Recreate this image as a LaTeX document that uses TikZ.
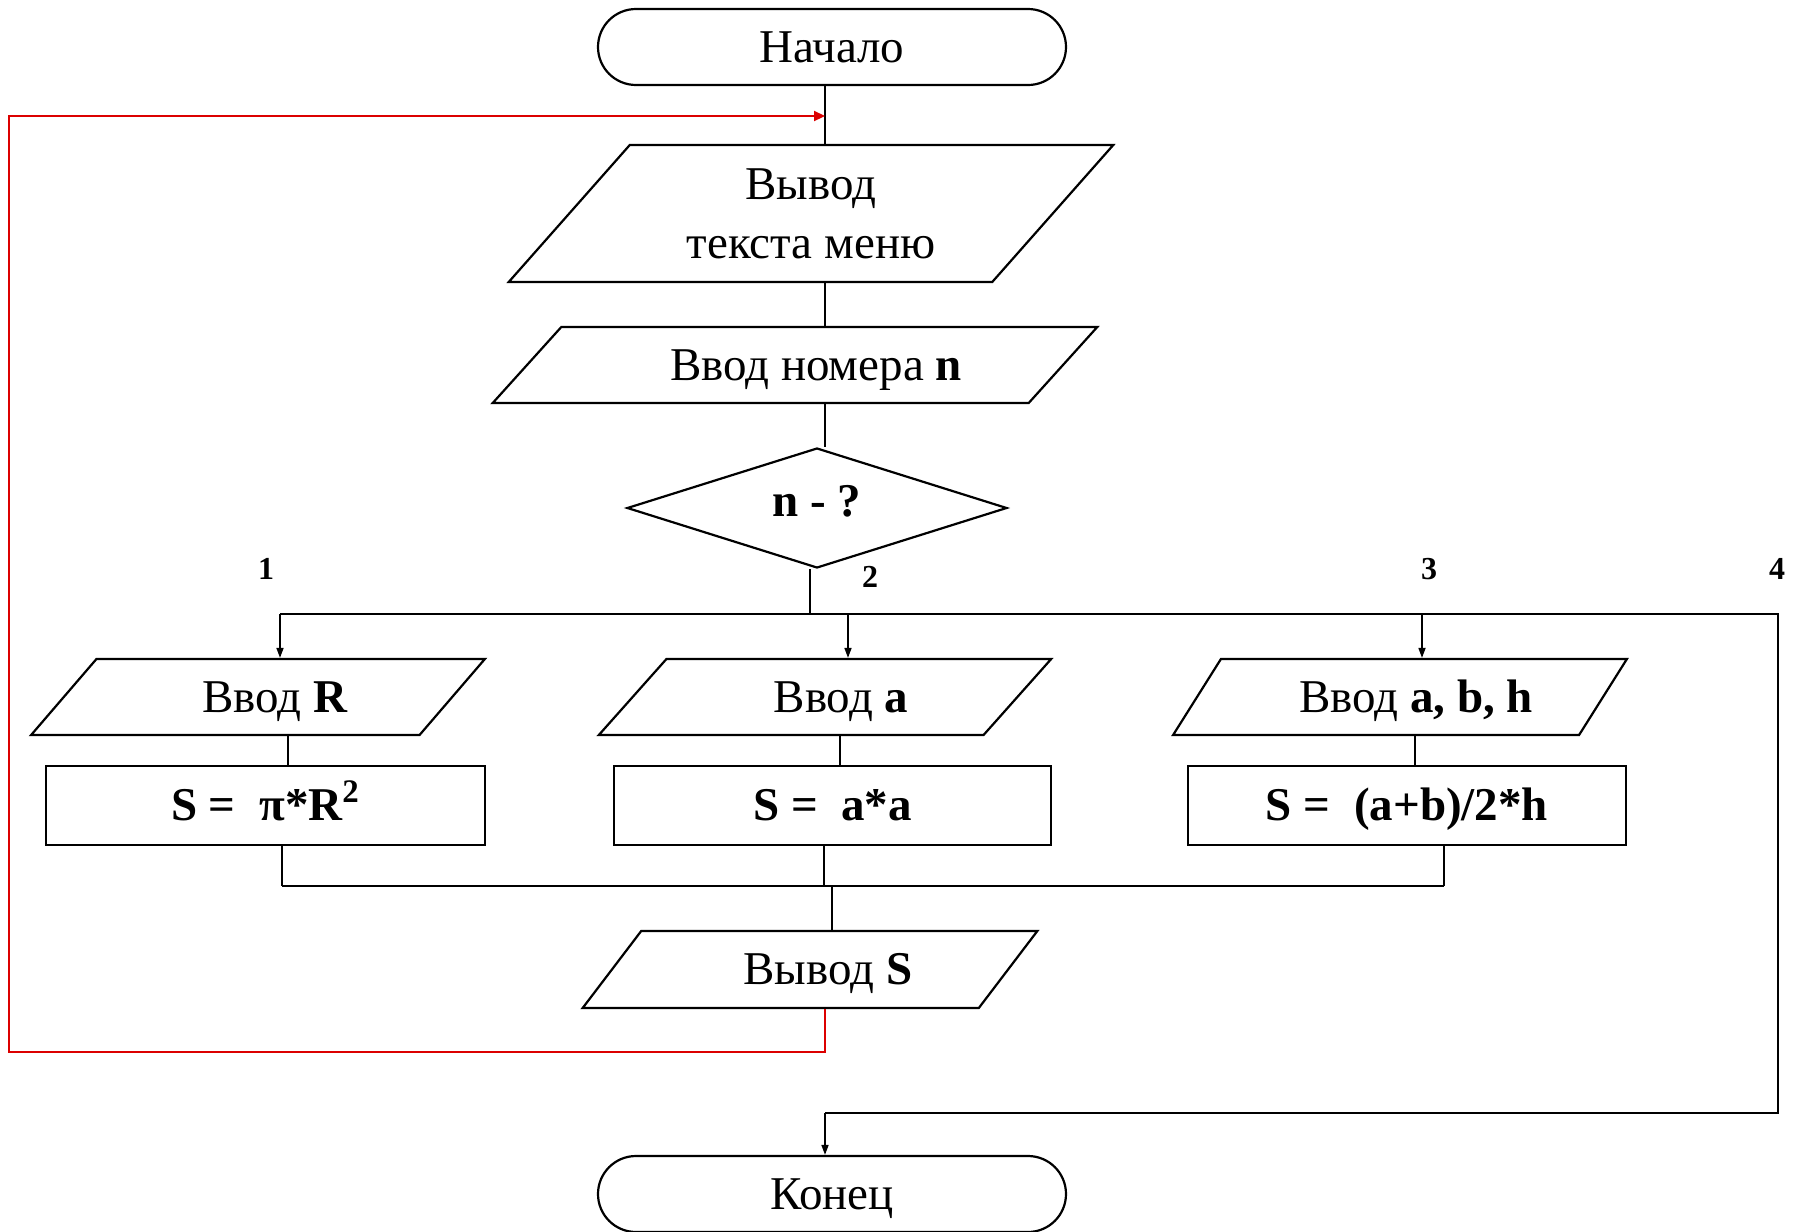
\documentclass[tikz,border=0pt]{standalone}
\usepackage{fontspec}
\setmainfont{Liberation Serif}
\usetikzlibrary{shapes.geometric,shapes.misc,arrows.meta}
\definecolor{loopred}{RGB}{220,0,0}
\begin{document}
\begin{tikzpicture}[x=0.5pt,y=-0.5pt,
  every node/.style={font=\fontsize{23.5}{29.5}\selectfont},
  blk/.style={draw, line width=1.1pt, inner sep=0pt},
  oneline/.style={text height=15pt, text depth=0pt},
  term/.style={blk, oneline, rounded rectangle, minimum width=234pt, minimum height=38pt},
  io/.style={blk, trapezium, trapezium stretches=true},
  proc/.style={blk, oneline, rectangle, minimum height=39.5pt},
  ln/.style={line width=0.8pt},
  arr/.style={ln, -{Triangle[length=5pt,width=3.5pt]}},
  tag/.style={font=\fontsize{16}{16}\selectfont\bfseries}
]
\useasboundingbox (0,0) rectangle (1795,1232);

% blocks
\node[term] (start) at (832,47) {Начало};
\node[io, minimum width=302.5pt, minimum height=68.5pt,
      trapezium left angle=47.4, trapezium right angle=132.6, align=center]
      (menu) at (811,213.5) {Вывод\\текста меню};
\node[io, oneline, minimum width=303pt, minimum height=38pt,
      trapezium left angle=31.5, trapezium right angle=148.5]
      (ninput) at (795,365) {\hspace*{21pt}Ввод номера \textbf{n}};
\node[blk, diamond, aspect=3.17, minimum width=190pt, minimum height=60pt,
      text height=15pt, text depth=7pt]
      (dec) at (817,508) {\textbf{n - ?}};

\node[io, oneline, minimum width=227pt, minimum height=38pt,
      trapezium left angle=39.6, trapezium right angle=140.4]
      (par1) at (258,697) {\hspace*{17pt}Ввод \textbf{R}};
\node[io, oneline, minimum width=226.5pt, minimum height=38pt,
      trapezium left angle=40.2, trapezium right angle=139.8]
      (par2) at (825,697) {\hspace*{16pt}Ввод \textbf{a}};
\node[io, oneline, minimum width=227pt, minimum height=38pt,
      trapezium left angle=40.2, trapezium right angle=139.8]
      (par3) at (1400,697) {\hspace*{16pt}Ввод \textbf{a, b, h}};

\node[proc, minimum width=219.5pt] (rect1) at (265.5,805.5)
      {\textbf{S =\ \ π*R\textsuperscript{2}}};
\node[proc, minimum width=218.5pt] (rect2) at (832.5,805.5)
      {\textbf{S =\ \ a*a}};
\node[proc, minimum width=219pt] (rect3) at (1407,805.5)
      {\textbf{S =\ \ (a+b)/2*h}};

\node[io, oneline, minimum width=227.5pt, minimum height=38.5pt,
      trapezium left angle=40.2, trapezium right angle=139.8]
      (out) at (810,969.5) {\hspace*{18pt}Вывод \textbf{S}};
\node[term] (end) at (832,1194) {Конец};

% branch numbers
\node[tag] (l1) at (266,569) {1};
\node[tag] (l2) at (870,577) {2};
\node[tag] (l3) at (1429,569) {3};
\node[tag] (l4) at (1777,569) {4};

% helper points
\coordinate (xa) at (825,0);
\coordinate (xb) at (810,0);
\coordinate (xo) at (832,0);
\coordinate (i1) at (280,614);
\coordinate (i2) at (848,614);
\coordinate (i3) at (1422,614);
\coordinate (br) at (1778,614);
\coordinate (lp) at (1778,1113);
\coordinate (m1) at (288,0);
\coordinate (m2) at (840,0);
\coordinate (m3) at (1415,0);
\coordinate (o1) at (282,886);
\coordinate (o2) at (824,886);
\coordinate (o3) at (1444,886);
\coordinate (rb) at (9,1052);
\coordinate (rt) at (825,116);

% main flow
\draw[ln] (start.south -| xa) -- (menu.north -| xa);
\draw[ln] (menu.south -| xa) -- (ninput.north -| xa);
\draw[ln] (ninput.south -| xa) -- (dec.north -| xa);
\draw[ln] (dec.south -| xb) -- (i1 -| xb);

% branch bus
\draw[ln] (i1) -- (br) -- (lp) -- (lp -| xa);
\draw[arr] (lp -| xa) -- (end.north -| xa);
\draw[arr] (i1) -- (par1.north -| i1);
\draw[arr] (i2) -- (par2.north -| i2);
\draw[arr] (i3) -- (par3.north -| i3);

\draw[ln] (par1.south -| m1) -- (rect1.north -| m1);
\draw[ln] (par2.south -| m2) -- (rect2.north -| m2);
\draw[ln] (par3.south -| m3) -- (rect3.north -| m3);

\draw[ln] (rect1.south -| o1) -- (o1);
\draw[ln] (rect2.south -| o2) -- (o2);
\draw[ln] (rect3.south -| o3) -- (o3);
\draw[ln] (o1) -- (o3);
\draw[ln] (o1 -| xo) -- (out.north -| xo);

% return loop
\draw[loopred, line width=1.1pt, -{Triangle[length=5.5pt,width=5pt]}]
  (out.south -| xa) |- (rb) |- (rt);
\end{tikzpicture}
\end{document}
